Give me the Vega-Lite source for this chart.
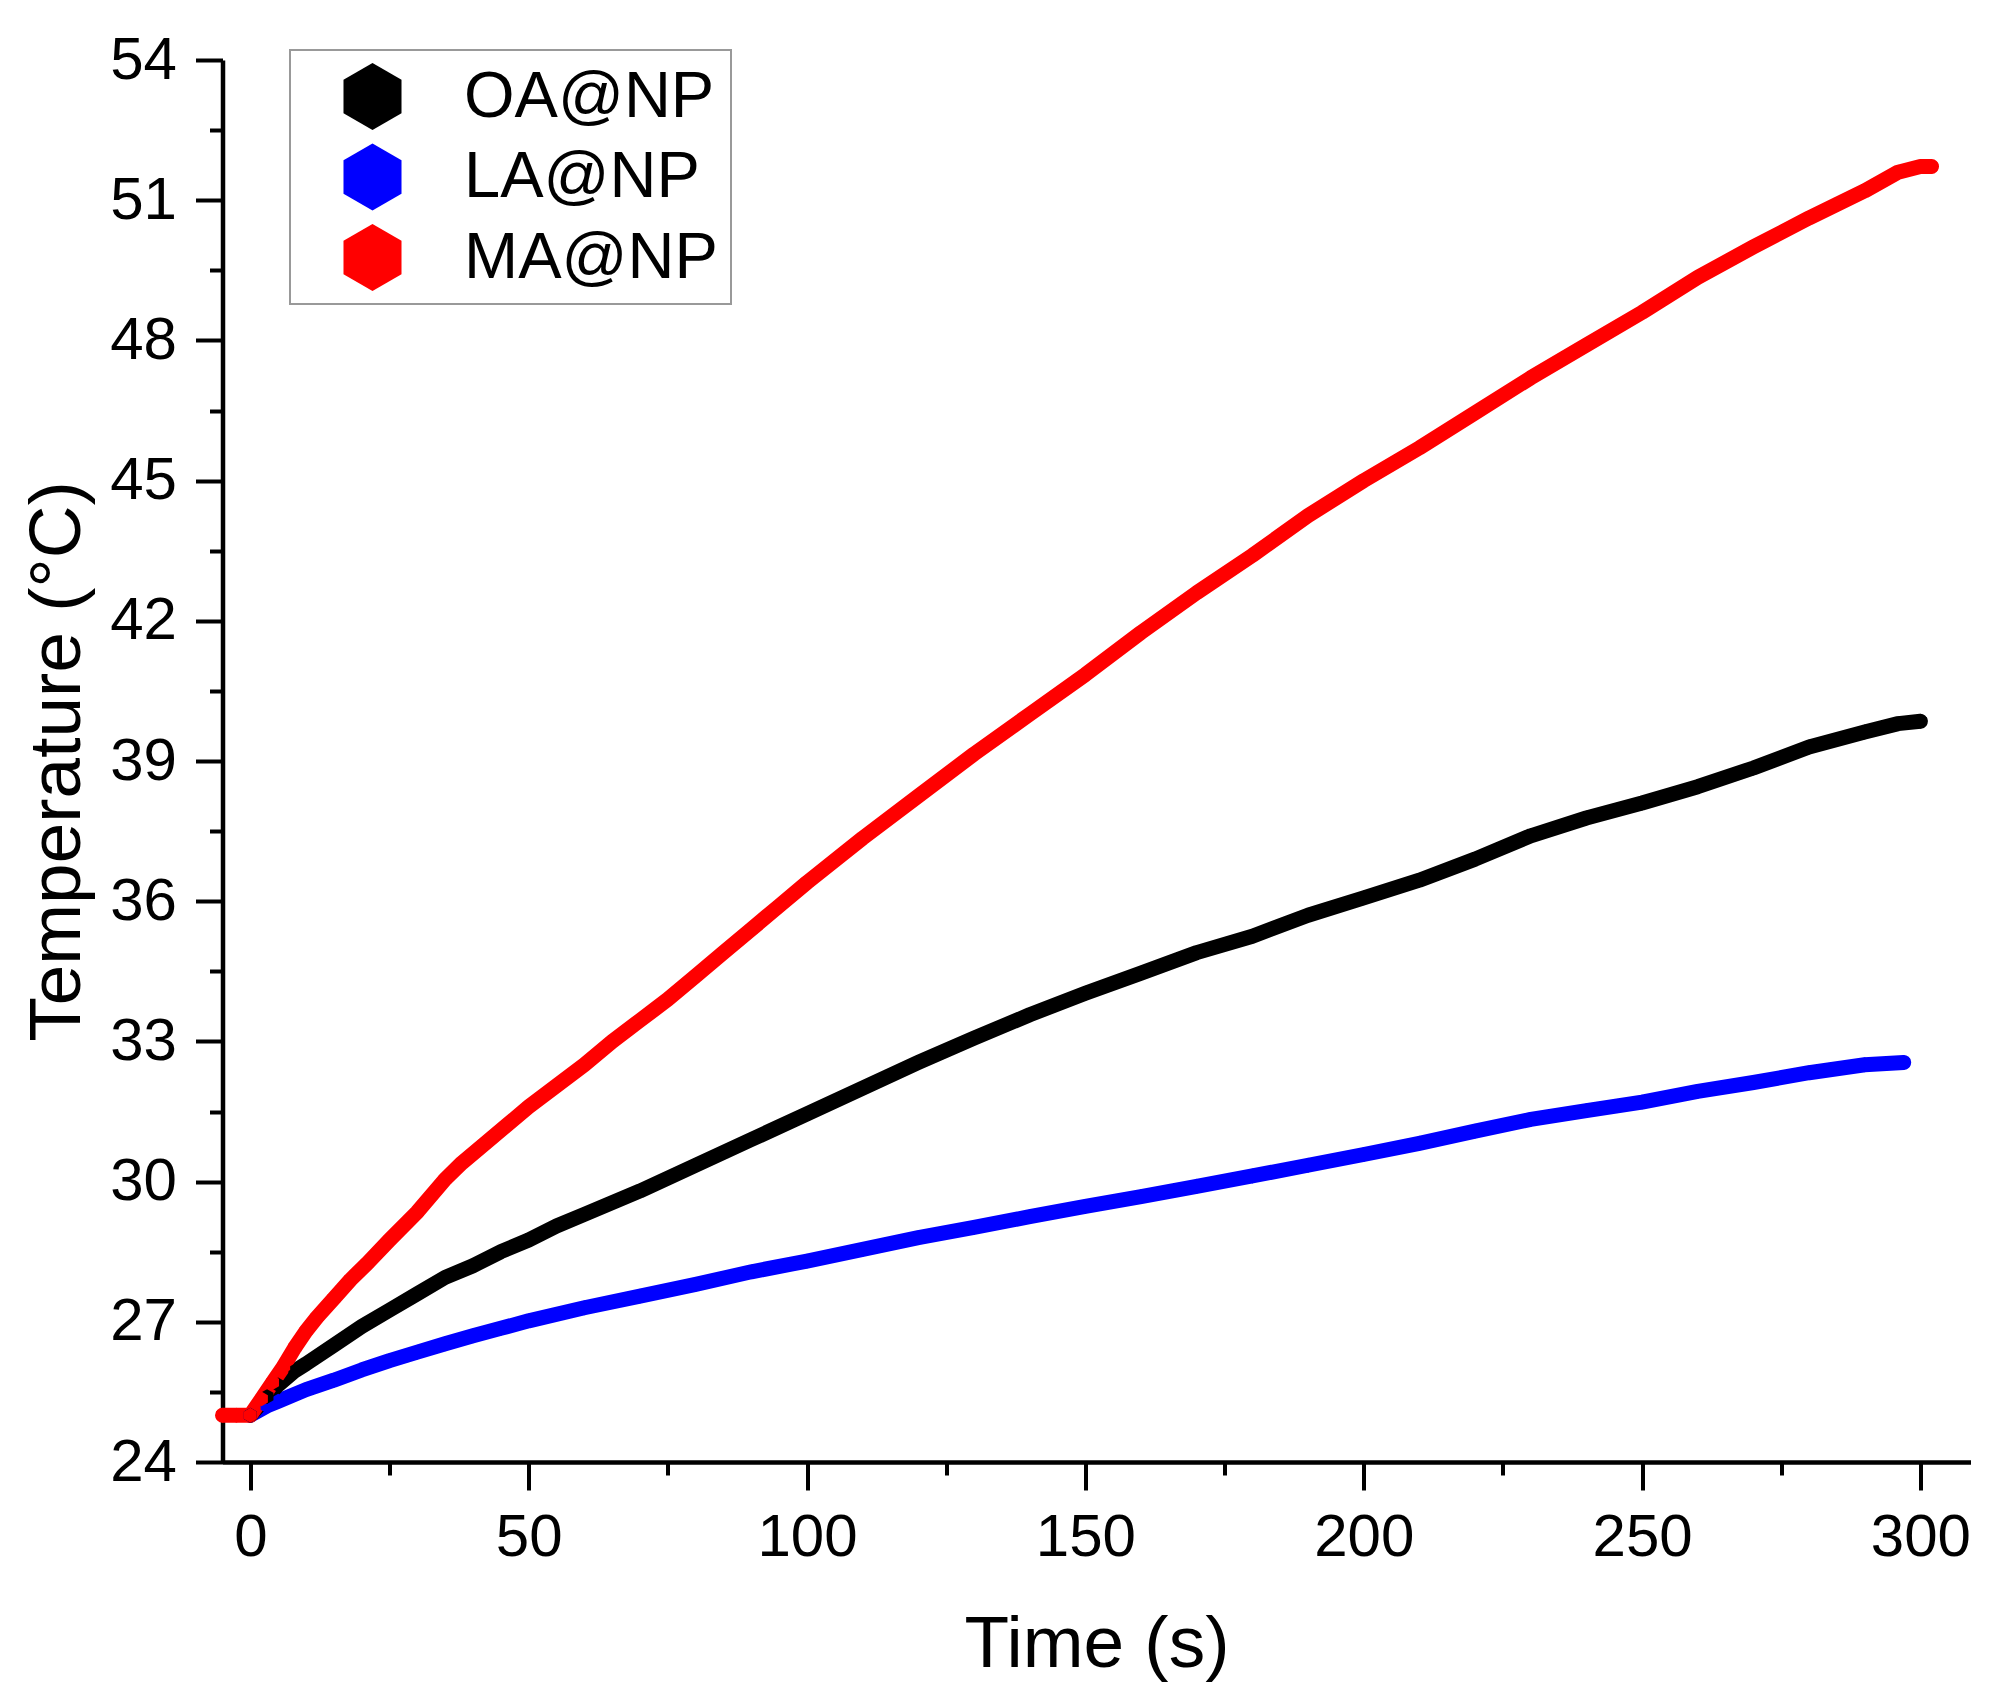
{
  "$schema": "https://vega.github.io/schema/vega-lite/v6.json",
  "width": 1748,
  "height": 1402,
  "autosize": {"type": "none"},
  "padding": {"left": 222.5, "top": 60, "right": 41.5, "bottom": 241},
  "background": "white",
  "data": {
    "values": [
      {"sample": "LA@NP", "time": 0, "temp": 25.0},
      {"sample": "LA@NP", "time": 3, "temp": 25.2},
      {"sample": "LA@NP", "time": 5, "temp": 25.3},
      {"sample": "LA@NP", "time": 10, "temp": 25.55},
      {"sample": "LA@NP", "time": 15, "temp": 25.75},
      {"sample": "LA@NP", "time": 20, "temp": 25.97},
      {"sample": "LA@NP", "time": 25, "temp": 26.17},
      {"sample": "LA@NP", "time": 30, "temp": 26.35},
      {"sample": "LA@NP", "time": 35, "temp": 26.53},
      {"sample": "LA@NP", "time": 40, "temp": 26.7},
      {"sample": "LA@NP", "time": 45, "temp": 26.86},
      {"sample": "LA@NP", "time": 50, "temp": 27.02},
      {"sample": "LA@NP", "time": 60, "temp": 27.3},
      {"sample": "LA@NP", "time": 70, "temp": 27.55},
      {"sample": "LA@NP", "time": 80, "temp": 27.8},
      {"sample": "LA@NP", "time": 90, "temp": 28.07},
      {"sample": "LA@NP", "time": 100, "temp": 28.3},
      {"sample": "LA@NP", "time": 110, "temp": 28.55},
      {"sample": "LA@NP", "time": 120, "temp": 28.8},
      {"sample": "LA@NP", "time": 130, "temp": 29.02},
      {"sample": "LA@NP", "time": 140, "temp": 29.25},
      {"sample": "LA@NP", "time": 150, "temp": 29.47},
      {"sample": "LA@NP", "time": 160, "temp": 29.68},
      {"sample": "LA@NP", "time": 170, "temp": 29.9},
      {"sample": "LA@NP", "time": 180, "temp": 30.12},
      {"sample": "LA@NP", "time": 190, "temp": 30.35},
      {"sample": "LA@NP", "time": 200, "temp": 30.58},
      {"sample": "LA@NP", "time": 210, "temp": 30.82},
      {"sample": "LA@NP", "time": 220, "temp": 31.08},
      {"sample": "LA@NP", "time": 230, "temp": 31.33},
      {"sample": "LA@NP", "time": 240, "temp": 31.52},
      {"sample": "LA@NP", "time": 250, "temp": 31.7},
      {"sample": "LA@NP", "time": 260, "temp": 31.93},
      {"sample": "LA@NP", "time": 270, "temp": 32.12},
      {"sample": "LA@NP", "time": 280, "temp": 32.33},
      {"sample": "LA@NP", "time": 290, "temp": 32.5},
      {"sample": "LA@NP", "time": 297, "temp": 32.55},

      {"sample": "OA@NP", "time": 0, "temp": 25.0},
      {"sample": "OA@NP", "time": 3, "temp": 25.4},
      {"sample": "OA@NP", "time": 5, "temp": 25.65},
      {"sample": "OA@NP", "time": 8, "temp": 25.95},
      {"sample": "OA@NP", "time": 10, "temp": 26.1},
      {"sample": "OA@NP", "time": 15, "temp": 26.5},
      {"sample": "OA@NP", "time": 20, "temp": 26.9},
      {"sample": "OA@NP", "time": 25, "temp": 27.25},
      {"sample": "OA@NP", "time": 30, "temp": 27.6},
      {"sample": "OA@NP", "time": 35, "temp": 27.95},
      {"sample": "OA@NP", "time": 40, "temp": 28.2},
      {"sample": "OA@NP", "time": 45, "temp": 28.5},
      {"sample": "OA@NP", "time": 50, "temp": 28.75},
      {"sample": "OA@NP", "time": 55, "temp": 29.05},
      {"sample": "OA@NP", "time": 60, "temp": 29.3},
      {"sample": "OA@NP", "time": 70, "temp": 29.8},
      {"sample": "OA@NP", "time": 80, "temp": 30.35},
      {"sample": "OA@NP", "time": 90, "temp": 30.9},
      {"sample": "OA@NP", "time": 100, "temp": 31.45},
      {"sample": "OA@NP", "time": 110, "temp": 32.0},
      {"sample": "OA@NP", "time": 120, "temp": 32.55},
      {"sample": "OA@NP", "time": 130, "temp": 33.07},
      {"sample": "OA@NP", "time": 140, "temp": 33.57},
      {"sample": "OA@NP", "time": 150, "temp": 34.03},
      {"sample": "OA@NP", "time": 160, "temp": 34.46},
      {"sample": "OA@NP", "time": 170, "temp": 34.9},
      {"sample": "OA@NP", "time": 180, "temp": 35.25},
      {"sample": "OA@NP", "time": 190, "temp": 35.7},
      {"sample": "OA@NP", "time": 200, "temp": 36.07},
      {"sample": "OA@NP", "time": 210, "temp": 36.45},
      {"sample": "OA@NP", "time": 220, "temp": 36.9},
      {"sample": "OA@NP", "time": 230, "temp": 37.4},
      {"sample": "OA@NP", "time": 240, "temp": 37.78},
      {"sample": "OA@NP", "time": 250, "temp": 38.1},
      {"sample": "OA@NP", "time": 260, "temp": 38.45},
      {"sample": "OA@NP", "time": 270, "temp": 38.85},
      {"sample": "OA@NP", "time": 280, "temp": 39.3},
      {"sample": "OA@NP", "time": 290, "temp": 39.62},
      {"sample": "OA@NP", "time": 296, "temp": 39.8},
      {"sample": "OA@NP", "time": 300, "temp": 39.85},

      {"sample": "MA@NP", "time": -5, "temp": 25.0},
      {"sample": "MA@NP", "time": -2.5, "temp": 25.0},
      {"sample": "MA@NP", "time": 0, "temp": 25.0},
      {"sample": "MA@NP", "time": 2, "temp": 25.35},
      {"sample": "MA@NP", "time": 4, "temp": 25.7},
      {"sample": "MA@NP", "time": 6, "temp": 26.05},
      {"sample": "MA@NP", "time": 8, "temp": 26.45},
      {"sample": "MA@NP", "time": 10, "temp": 26.8},
      {"sample": "MA@NP", "time": 12, "temp": 27.1},
      {"sample": "MA@NP", "time": 15, "temp": 27.5},
      {"sample": "MA@NP", "time": 18, "temp": 27.9},
      {"sample": "MA@NP", "time": 21, "temp": 28.25},
      {"sample": "MA@NP", "time": 25, "temp": 28.75},
      {"sample": "MA@NP", "time": 30, "temp": 29.35},
      {"sample": "MA@NP", "time": 35, "temp": 30.05},
      {"sample": "MA@NP", "time": 38, "temp": 30.4},
      {"sample": "MA@NP", "time": 42, "temp": 30.8},
      {"sample": "MA@NP", "time": 46, "temp": 31.2},
      {"sample": "MA@NP", "time": 50, "temp": 31.6},
      {"sample": "MA@NP", "time": 55, "temp": 32.05},
      {"sample": "MA@NP", "time": 60, "temp": 32.5},
      {"sample": "MA@NP", "time": 65, "temp": 33.0},
      {"sample": "MA@NP", "time": 70, "temp": 33.45},
      {"sample": "MA@NP", "time": 75, "temp": 33.9},
      {"sample": "MA@NP", "time": 80, "temp": 34.4},
      {"sample": "MA@NP", "time": 85, "temp": 34.9},
      {"sample": "MA@NP", "time": 90, "temp": 35.4},
      {"sample": "MA@NP", "time": 95, "temp": 35.9},
      {"sample": "MA@NP", "time": 100, "temp": 36.4},
      {"sample": "MA@NP", "time": 110, "temp": 37.35},
      {"sample": "MA@NP", "time": 120, "temp": 38.25},
      {"sample": "MA@NP", "time": 130, "temp": 39.15},
      {"sample": "MA@NP", "time": 140, "temp": 40.0},
      {"sample": "MA@NP", "time": 150, "temp": 40.85},
      {"sample": "MA@NP", "time": 160, "temp": 41.75},
      {"sample": "MA@NP", "time": 170, "temp": 42.6},
      {"sample": "MA@NP", "time": 180, "temp": 43.4},
      {"sample": "MA@NP", "time": 190, "temp": 44.25},
      {"sample": "MA@NP", "time": 200, "temp": 45.0},
      {"sample": "MA@NP", "time": 210, "temp": 45.7},
      {"sample": "MA@NP", "time": 220, "temp": 46.45},
      {"sample": "MA@NP", "time": 230, "temp": 47.2},
      {"sample": "MA@NP", "time": 240, "temp": 47.9},
      {"sample": "MA@NP", "time": 250, "temp": 48.6},
      {"sample": "MA@NP", "time": 260, "temp": 49.35},
      {"sample": "MA@NP", "time": 270, "temp": 50.0},
      {"sample": "MA@NP", "time": 280, "temp": 50.62},
      {"sample": "MA@NP", "time": 290, "temp": 51.2},
      {"sample": "MA@NP", "time": 296, "temp": 51.6},
      {"sample": "MA@NP", "time": 300, "temp": 51.72},
      {"sample": "MA@NP", "time": 302, "temp": 51.72}
    ]
  },
  "layer": [
    {
      "mark": {"type": "line", "strokeWidth": 15, "strokeCap": "round", "strokeJoin": "round"},
      "encoding": {
        "x": {
          "field": "time",
          "type": "quantitative",
          "scale": {"domain": [-5, 309], "nice": false, "zero": false},
          "axis": {
            "orient": "bottom",
            "values": [0, 50, 100, 150, 200, 250, 300],
            "format": "d",
            "tickSize": 28,
            "tickWidth": 4,
            "domainWidth": 4.5,
            "labelFontSize": 60,
            "labelPadding": 18,
            "labelFlush": false,
            "labelOverlap": false,
            "title": "Time (s)",
            "titleFontSize": 73,
            "titlePadding": 41
          }
        },
        "y": {
          "field": "temp",
          "type": "quantitative",
          "scale": {"domain": [24, 54], "nice": false, "zero": false},
          "axis": {
            "orient": "left",
            "values": [24, 27, 30, 33, 36, 39, 42, 45, 48, 51, 54],
            "format": "d",
            "tickSize": 27,
            "tickWidth": 4,
            "domainWidth": 4.5,
            "labelFontSize": 60,
            "labelPadding": 19,
            "labelFlush": false,
            "labelOverlap": false,
            "title": "Temperature (°C)",
            "titleFontSize": 73,
            "titlePadding": 15
          }
        },
        "stroke": {
          "field": "sample",
          "type": "nominal",
          "scale": {"domain": ["LA@NP", "OA@NP", "MA@NP"], "range": ["#0000ff", "#000000", "#ff0000"]},
          "legend": null
        }
      }
    },
    {
      "mark": {
        "type": "point",
        "filled": true,
        "opacity": 1,
        "size": 220,
        "shape": "M0,-1L0.866,-0.5L0.866,0.5L0,1L-0.866,0.5L-0.866,-0.5Z"
      },
      "encoding": {
        "x": {
          "field": "time",
          "type": "quantitative",
          "axis": {
            "orient": "bottom",
            "values": [25, 75, 125, 175, 225, 275],
            "labels": false,
            "domain": false,
            "tickSize": 13,
            "tickWidth": 4,
            "title": null
          }
        },
        "y": {
          "field": "temp",
          "type": "quantitative",
          "axis": {
            "orient": "left",
            "values": [25.5, 28.5, 31.5, 34.5, 37.5, 40.5, 43.5, 46.5, 49.5, 52.5],
            "labels": false,
            "domain": false,
            "tickSize": 13,
            "tickWidth": 4,
            "title": null
          }
        },
        "color": {
          "field": "sample",
          "type": "nominal",
          "scale": {"domain": ["OA@NP", "LA@NP", "MA@NP"], "range": ["#000000", "#0000ff", "#ff0000"]},
          "legend": {
            "title": null,
            "orient": "none",
            "legendX": 67.5,
            "legendY": -10,
            "padding": 13,
            "rowPadding": 13.5,
            "symbolType": "M0,-1L0.866,-0.5L0.866,0.5L0,1L-0.866,0.5L-0.866,-0.5Z",
            "symbolSize": 4489,
            "symbolStrokeWidth": 0,
            "symbolOffset": 36,
            "labelOffset": 58,
            "labelFont": "Liberation Sans",
            "labelFontSize": 65,
            "labelColor": "black",
            "labelLimit": 500,
            "strokeColor": "#999999",
            "fillColor": "white"
          }
        }
      }
    }
  ],
  "resolve": {"axis": {"x": "independent", "y": "independent"}},
  "config": {
    "view": {"stroke": null},
    "font": "Liberation Sans",
    "axis": {
      "grid": false,
      "domainColor": "black",
      "tickColor": "black",
      "labelColor": "black",
      "titleColor": "black",
      "labelFont": "Liberation Sans",
      "titleFont": "Liberation Sans",
      "titleFontWeight": "normal"
    },
    "legend": {"strokeWidth": 2}
  }
}
